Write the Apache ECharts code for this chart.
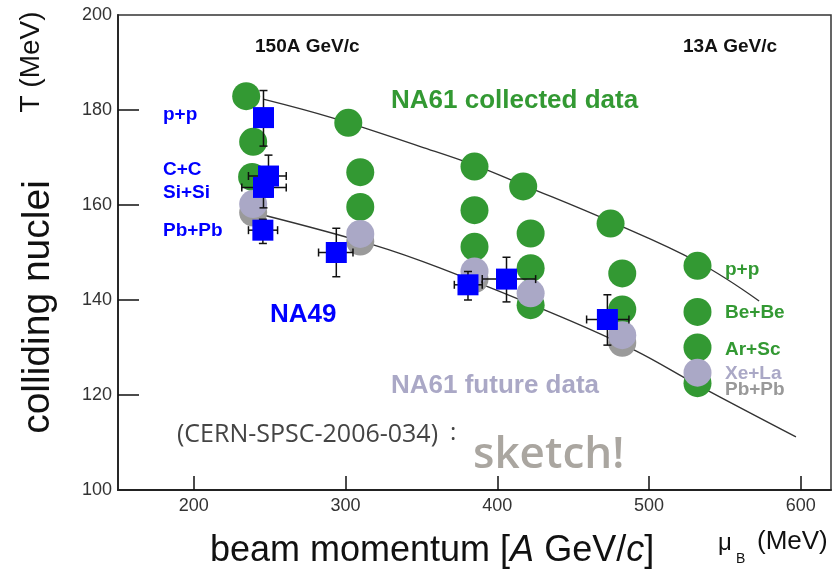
<!DOCTYPE html>
<html>
<head>
<meta charset="utf-8">
<script src="https://cdn.jsdelivr.net/npm/echarts@6/dist/echarts.min.js"></script>
<style>
html,body{margin:0;padding:0;background:#fff;}
#chart{width:834px;height:572px;}
</style>
</head>
<body>
<div id="chart"></div>
<script>
// ---- data ----
const xTickValues = [200, 300, 400, 500, 600];
const yTickValues = [100, 120, 140, 160, 180, 200];

// NA61 collected data (green circles): [muB, T]
const na61Collected = [
  [234.5,182.9],[239.1,173.3],[238.4,165.9],
  [301.8,177.3],[309.7,166.9],[309.7,159.6],
  [385.0,168.1],[385.0,158.9],[385.0,151.2],
  [417.1,163.9],[422.0,154.0],[422.0,146.7],[422.0,138.9],
  [474.7,156.1],[482.4,145.6],[482.4,138.0],
  [532.0,147.2],[532.0,137.5],[532.0,130.0],[532.0,122.5]
];
// NA61 future data, Pb+Pb (darker gray)
const na61FuturePbPb = [[239.1,158.4],[309.7,152.3],[385.0,144.4],[482.4,131.0]];
// NA61 future data, Xe+La (lavender)
const na61FutureXeLa = [[239.1,160.2],[309.7,153.9],[385.0,146.0],[422.0,141.4],[482.4,132.6],[532.0,124.7]];

// NA49 (blue squares): [muB, T]
const na49 = [[245.9,178.4],[249.2,166.1],[245.9,163.7],[245.5,154.7],[293.9,150.0],[380.7,143.2],[406.1,144.4],[472.6,135.9]];
// NA49 error ranges: [xLow, xHigh, yLow, yHigh]
const na49Err = [
  [245.9,245.9,172.4,184.1],
  [236.0,260.9,161.7,170.5],
  [231.6,260.9,159.4,167.8],
  [236.0,255.2,151.9,157.0],
  [282.2,304.9,144.9,155.1],
  [371.7,390.1,140.0,146.0],
  [390.1,425.3,139.6,149.0],
  [458.9,486.8,130.5,141.1]
];

// freeze-out curves
const upperCurve = [[245.7,182.3],[291.9,178.3],[349.3,172.3],[385.0,168.4],[417.1,164.2],[474.8,156.5],[532.2,148.0],[572.6,139.8]];
const lowerCurve = [[245.7,157.9],[318.3,151.6],[362.5,146.7],[441.7,136.5],[490.1,129.5],[532.1,122.1],[596.9,111.2]];

// ---- chart ----
const chart = echarts.init(document.getElementById('chart'), null, {renderer:'canvas'});
const FONT = '"Liberation Sans", Arial, Helvetica, sans-serif';

function txt(text, x, y, size, fill, opts) {
  opts = opts || {};
  const align = opts.align || 'left';
  return {
    type: 'text', x: x, y: y, rotation: opts.rotation || 0, z: 100,
    style: {
      text: text,
      font: (opts.weight || 'normal') + ' ' + size + 'px ' + (opts.family || FONT),
      fill: fill,
      align: align, verticalAlign: 'middle',
      textAlign: align, textVerticalAlign: 'middle',
      rich: opts.rich
    }
  };
}

const errData = na49.map((p, i) => [p[0], p[1]].concat(na49Err[i]));

const option = {
  animation: false,
  backgroundColor: '#ffffff',
  grid: { left: 118, right: 3, top: 15, bottom: 82, show: true, borderColor: '#333', borderWidth: 1.5, backgroundColor: 'transparent' },
  xAxis: {
    type: 'value', min: 150, max: 620,
    axisLine: { show: true, lineStyle: { color: '#222', width: 1.8 } },
    axisTick: { show: true, inside: true, length: 14, customValues: xTickValues, lineStyle: { color: '#111', width: 1.5 } },
    axisLabel: { customValues: xTickValues, color: '#333', fontSize: 18, fontFamily: FONT, margin: 7 },
    splitLine: { show: false }
  },
  yAxis: {
    type: 'value', min: 100, max: 200, interval: 20,
    axisLine: { show: true, lineStyle: { color: '#222', width: 1.8 } },
    axisTick: { show: true, inside: true, length: 21, customValues: [120,140,160,180], lineStyle: { color: '#111', width: 1.5 } },
    axisLabel: { customValues: yTickValues, color: '#333', fontSize: 18, fontFamily: FONT, margin: 6 },
    splitLine: { show: false }
  },
  series: [
    { type: 'line', data: upperCurve, smooth: 0.4, showSymbol: false, z: 1, lineStyle: { color: '#333', width: 1.4 } },
    { type: 'line', data: lowerCurve, smooth: 0.4, showSymbol: false, z: 1, lineStyle: { color: '#333', width: 1.4 } },
    { type: 'scatter', data: na61Collected, symbol: 'circle', symbolSize: 28, z: 2, itemStyle: { color: '#339933', opacity: 1 } },
    { type: 'scatter', data: na61FuturePbPb, symbol: 'circle', symbolSize: 28, z: 3, itemStyle: { color: '#9a9a9a', opacity: 1 } },
    { type: 'scatter', data: na61FutureXeLa, symbol: 'circle', symbolSize: 28, z: 4, itemStyle: { color: '#aaa8c6', opacity: 1 } },
    {
      type: 'custom', z: 5, data: errData,
      renderItem: function (params, api) {
        const x = api.value(0), y = api.value(1);
        const xl = api.value(2), xh = api.value(3), yl = api.value(4), yh = api.value(5);
        const a = api.coord([xl, y]), b = api.coord([xh, y]);
        const c = api.coord([x, yl]), d = api.coord([x, yh]);
        const cap = 4;
        const st = { stroke: '#111', lineWidth: 1.5 };
        const ch = [];
        if (xh > xl) {
          ch.push({ type: 'line', shape: { x1: a[0], y1: a[1], x2: b[0], y2: b[1] }, style: st });
          ch.push({ type: 'line', shape: { x1: a[0], y1: a[1]-cap, x2: a[0], y2: a[1]+cap }, style: st });
          ch.push({ type: 'line', shape: { x1: b[0], y1: b[1]-cap, x2: b[0], y2: b[1]+cap }, style: st });
        }
        ch.push({ type: 'line', shape: { x1: c[0], y1: c[1], x2: d[0], y2: d[1] }, style: st });
        ch.push({ type: 'line', shape: { x1: c[0]-cap, y1: c[1], x2: c[0]+cap, y2: c[1] }, style: st });
        ch.push({ type: 'line', shape: { x1: d[0]-cap, y1: d[1], x2: d[0]+cap, y2: d[1] }, style: st });
        return { type: 'group', children: ch };
      }
    },
    { type: 'scatter', data: na49, symbol: 'rect', symbolSize: 21, z: 6, itemStyle: { color: '#0000ff', opacity: 1 } }
  ],
  graphic: [
    txt('150A GeV/c', 255, 47, 19, '#111', { weight: 'bold' }),
    txt('13A GeV/c', 683, 47, 19, '#111', { weight: 'bold' }),
    txt('NA61 collected data', 391, 101, 26, '#339933', { weight: 'bold' }),
    txt('p+p', 163, 115, 19, '#0000ff', { weight: 'bold' }),
    txt('C+C', 163, 170, 19, '#0000ff', { weight: 'bold' }),
    txt('Si+Si', 163, 193, 19, '#0000ff', { weight: 'bold' }),
    txt('Pb+Pb', 163, 231, 19, '#0000ff', { weight: 'bold' }),
    txt('NA49', 270, 315, 26, '#0000ff', { weight: 'bold' }),
    txt('NA61 future data', 391, 386, 26, '#aaa8c6', { weight: 'bold' }),
    txt('p+p', 725, 270, 19, '#339933', { weight: 'bold' }),
    txt('Be+Be', 725, 313, 19, '#339933', { weight: 'bold' }),
    txt('Ar+Sc', 725, 350, 19, '#339933', { weight: 'bold' }),
    txt('Xe+La', 725, 374, 19, '#aaa8c6', { weight: 'bold' }),
    txt('Pb+Pb', 725, 390, 19, '#999999', { weight: 'bold' }),
    txt('(CERN-SPSC-2006-034)', 177, 435, 25, '#444', { family: '"Open Sans", sans-serif' }),
    txt(':', 450, 433, 24, '#444', { family: '"Open Sans", sans-serif' }),
    txt('sketch!', 473, 455, 44, '#aaa6a0', { weight: '600', family: '"Open Sans", sans-serif' }),
    txt('beam momentum [{i|A} GeV/{i|c}]', 210, 551, 36, '#111', { rich: { i: { fontStyle: 'italic', fontSize: 36, fontFamily: FONT, fill: '#111', color: '#111' } } }),
    txt('\u03bc', 718, 543, 24, '#111'),
    txt('B', 736, 559, 14, '#111'),
    txt('(MeV)', 757, 542, 26, '#111'),
    txt('T (MeV)', 31, 62, 28, '#111', { align: 'center', rotation: Math.PI / 2 }),
    txt('colliding nuclei', 38, 307, 39, '#111', { align: 'center', rotation: Math.PI / 2 })
  ]
};
chart.setOption(option);
</script>
</body>
</html>
